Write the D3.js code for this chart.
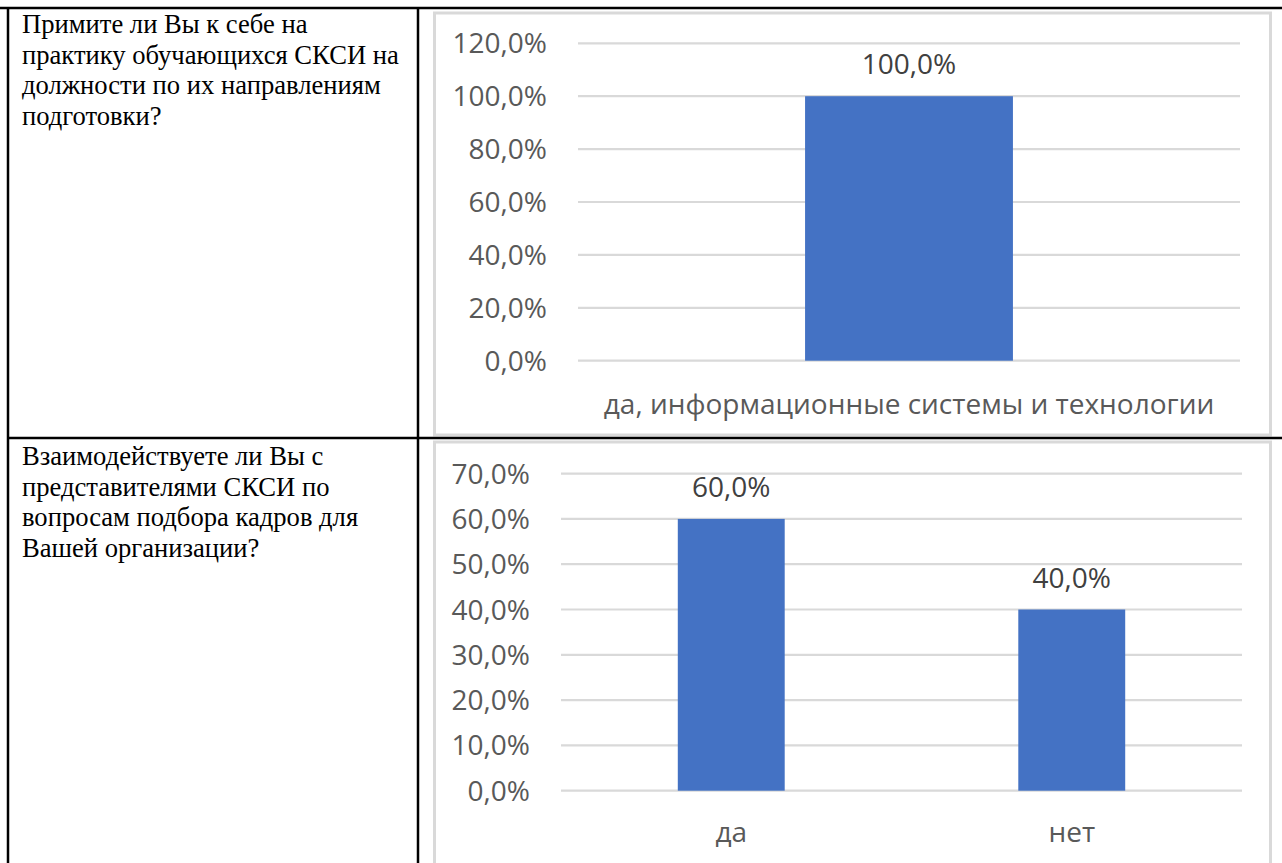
<!DOCTYPE html>
<html>
<head>
<meta charset="utf-8">
<script src="https://cdn.jsdelivr.net/npm/d3@7"></script>
<style>
  body { margin: 0; background: #fff; }
  svg { display: block; }
</style>
</head>
<body>
<script>
var width = 1282,
    height = 863

// question 1
var q1Lines = ["Примите ли Вы к себе на", "практику обучающихся СКСИ на", "должности по их направлениям", "подготовки?"];
var q1Cats = ["да, информационные системы и технологии"];
var q1Vals = [1.0];
var q1Ticks = [0, 0.2, 0.4, 0.6, 0.8, 1.0, 1.2];

// question 2
var q2Lines = ["Взаимодействуете ли Вы с", "представителями СКСИ по", "вопросам подбора кадров для", "Вашей организации?"];
var q2Cats = ["да", "нет"];
var q2Vals = [0.6, 0.4];
var q2Ticks = [0, 0.1, 0.2, 0.3, 0.4, 0.5, 0.6, 0.7];

var fmt = d => d3.format(".1f")(d * 100).replace(".", ",") + "%";

var svg = d3.select("body").append("svg")
    .attr("width", width)
    .attr("height", height);

// chart frames
svg.append("rect").attr("x", 434.5).attr("y", 13).attr("width", 836).attr("height", 422)
    .attr("fill", "#fff").attr("stroke", "#d9d9d9").attr("stroke-width", 3);
svg.append("rect").attr("x", 434.5).attr("y", 442).attr("width", 836).attr("height", 440)
    .attr("fill", "#fff").attr("stroke", "#d9d9d9").attr("stroke-width", 3);

// table lines
var lines = [
  [0, 8, 1282, 8],
  [8, 8, 8, 863],
  [418, 8, 418, 863],
  [8, 438, 1282, 438]
];
svg.selectAll(".tline")
    .data(lines)
    .enter()
    .append("line")
    .attr("class", "tline")
    .attr("x1", d => d[0]).attr("y1", d => d[1])
    .attr("x2", d => d[2]).attr("y2", d => d[3])
    .style("stroke", "#000")
    .style("stroke-width", 2.5);

function question(linesArr, y0) {
  svg.append("text")
      .attr("x", 22)
      .attr("y", y0)
      .style("font-family", "'Liberation Serif', 'Times New Roman', serif")
      .style("font-size", "26.6px")
      .style("fill", "#000")
      .selectAll("tspan")
      .data(linesArr)
      .enter()
      .append("tspan")
      .attr("x", 22)
      .attr("dy", (d, i) => i == 0 ? 0 : 30.7)
      .text(d => d);
}
question(q1Lines, 33);
question(q2Lines, 465);

function chart(cats, vals, ticks, x0, x1, yBot, yTop, labelRight, catY) {
  var x = d3.scaleBand().domain(cats).range([x0, x1]).paddingInner(0.686).paddingOuter(0.343);
  var y = d3.scaleLinear().domain([0, ticks[ticks.length - 1]]).range([yBot, yTop]);
  var g = svg.append("g");

  g.selectAll(".grid")
      .data(ticks)
      .enter()
      .append("line")
      .attr("x1", x0).attr("x2", x1)
      .attr("y1", d => y(d)).attr("y2", d => y(d))
      .style("stroke", "#d9d9d9")
      .style("stroke-width", 2.2);

  g.selectAll(".tick")
      .data(ticks)
      .enter()
      .append("text")
      .attr("x", labelRight)
      .attr("y", d => y(d))
      .attr("dy", "0.36em")
      .attr("text-anchor", "end")
      .style("font-family", "'Open Sans', sans-serif")
      .style("font-size", "28px")
      .style("fill", "#595959")
      .text(fmt);

  g.selectAll(".bar")
      .data(vals)
      .enter()
      .append("rect")
      .attr("x", (d, i) => x(cats[i]))
      .attr("width", x.bandwidth())
      .attr("y", d => y(d))
      .attr("height", d => y(0) - y(d))
      .style("fill", "#4472c4");

  g.selectAll(".val")
      .data(vals)
      .enter()
      .append("text")
      .attr("x", (d, i) => x(cats[i]) + x.bandwidth() / 2)
      .attr("y", d => y(d) - 22)
      .attr("text-anchor", "middle")
      .style("font-family", "'Open Sans', sans-serif")
      .style("font-size", "28px")
      .style("fill", "#404040")
      .text(fmt);

  g.selectAll(".cat")
      .data(cats)
      .enter()
      .append("text")
      .attr("x", d => x(d) + x.bandwidth() / 2)
      .attr("y", catY)
      .attr("dy", "0.36em")
      .attr("text-anchor", "middle")
      .style("font-family", "'Open Sans', sans-serif")
      .style("font-size", "28px")
      .style("fill", "#595959")
      .text(d => d);
}

chart(q1Cats, q1Vals, q1Ticks, 578, 1240, 360.7, 43.3, 547, 404);
chart(q2Cats, q2Vals, q2Ticks, 561, 1242, 790.7, 473.6, 530, 832);
</script>
</body>
</html>
